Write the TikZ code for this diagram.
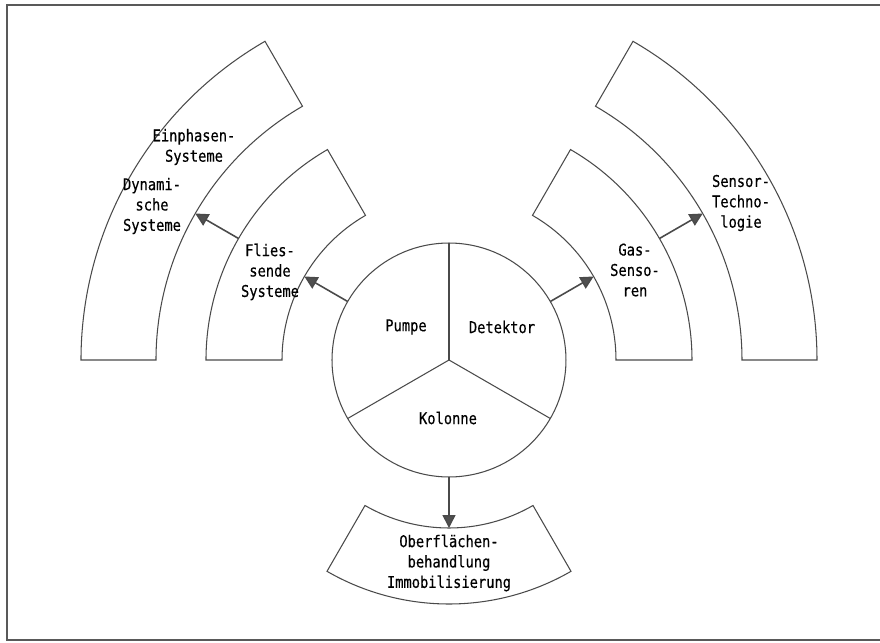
\documentclass[tikz,border=0pt]{standalone}
\usepackage{fontspec}
\newfontfamily\plotfont[FakeStretch=0.85, FakeBold=0.4]{DejaVu Sans Mono}
\usepackage{xcolor}
\usepackage{tikz}
\usetikzlibrary{arrows.meta, positioning}
\definecolor{linegray}{HTML}{4A4A4A}
\definecolor{tipgray}{HTML}{505050}
\tikzset{
    hub/.style={circle, draw=linegray, line width=0.6pt, minimum size=4.68cm, inner sep=0pt, outer sep=0pt},
    ring/.style={draw=linegray, line width=0.6pt},
    boxtext/.style={font=\plotfont\fontsize{9.2pt}{11.6pt}\selectfont, align=center, inner sep=0pt, text=black},
    arrow/.style={line width=0.9pt, draw=linegray, -{Triangle[length=0.26cm, width=0.26cm, fill=tipgray]}}
}
% annular segment: start angle, end angle, inner radius, outer radius
\newcommand{\ringpart}[4]{%
    \draw[ring] (#1:#3) arc[start angle=#1, end angle=#2, radius=#3]
        -- (#2:#4) arc[start angle=#2, end angle=#1, radius=#4] -- cycle;}

\begin{document}
\begin{tikzpicture}[x=0.02cm, y=0.02cm]
    \useasboundingbox (-449,-283) rectangle (431,360);
    \draw[black!65, line width=1.2pt] (431,-280) -- (-442,-280) -- (-442,355) -- (431,355);

    % centre disc
    \node (core) [hub] at (0,0) {};
    \draw[ring] (core.center) -- (core.90);
    \draw[ring] (core.center) -- (core.210);
    \draw[ring] (core.center) -- (core.330);
    \node (pumpe) [boxtext] at (-43,33) {Pumpe};
    \node (detektor) [boxtext] at (53,33) {Detektor};
    \node (kolonne) [boxtext] at (-1,-58) {Kolonne};

    % rings
    \ringpart{120}{180}{167}{243}
    \ringpart{120}{180}{293}{368}
    \ringpart{0}{60}{167}{243}
    \ringpart{0}{60}{293}{368}
    \ringpart{240}{300}{168}{244}

    \node (einphasen) [boxtext] at (-255,213) {Einphasen-\\Systeme};
    \node (dynamisch) [boxtext] at (-297,154) {Dynami-\\sche\\Systeme};
    \node (fliessend) [boxtext] at (-179,88) {Flies-\\sende\\Systeme};
    \node (gas) [boxtext] at (186,90) {Gas-\\Senso-\\ren};
    \node (sensor) [boxtext] at (292,157) {Sensor-\\Techno-\\logie};
    \node (oberflaeche) [boxtext] at (0,-203) {Oberflächen-\\behandlung\\Immobilisierung};

    \coordinate (fliesin) at (150:167);
    \coordinate (fliesout) at (150:243);
    \coordinate (dynin) at (150:293);
    \coordinate (gasin) at (30:167);
    \coordinate (gasout) at (30:243);
    \coordinate (sensin) at (30:293);
    \coordinate (oberin) at (270:168);

    \draw [arrow] (core.150) -- (fliesin);
    \draw [arrow] (fliesout) -- (dynin);
    \draw [arrow] (core.30) -- (gasin);
    \draw [arrow] (gasout) -- (sensin);
    \draw [arrow] (core.270) -- (oberin);
\end{tikzpicture}
\end{document}
